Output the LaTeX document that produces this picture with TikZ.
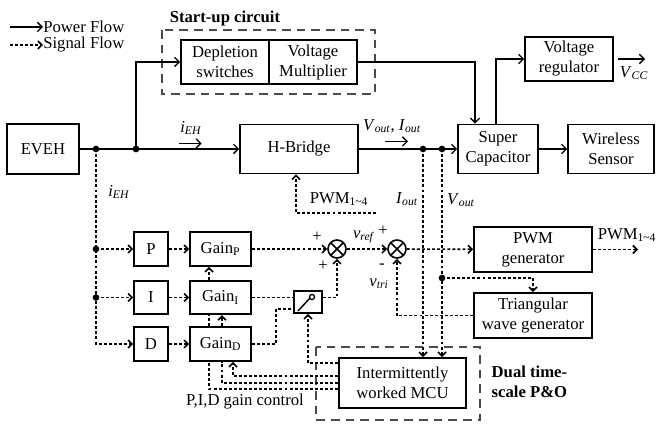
\documentclass[tikz,border=0pt]{standalone}
\usepackage{fontspec}
\setmainfont{Liberation Serif}
\usetikzlibrary{arrows.meta,calc}
\definecolor{rahmen}{HTML}{4A4A4A}
\newcommand{\fs}{\fontsize{12.5}{15}\selectfont}
\newcommand{\sg}[2]{\textit{#1}\textsubscript{\textit{#2}}}
\newcommand{\pwm}{PWM\textsubscript{1\textasciitilde4}}
\tikzset{
  blk/.style={draw,line width=1.3pt,align=center,inner sep=1pt},
  pwr/.style={-{Straight Barb[length=3.5pt,width=7pt]},line width=1pt},
  sig/.style={-{Straight Barb[length=3pt,width=6pt]},line width=1.2pt,dash pattern=on 2.2pt off 1.6pt},
  sigl/.style={line width=1.2pt,dash pattern=on 2.2pt off 1.6pt},
  grp/.style={draw=rahmen,line width=1pt,dash pattern=on 6.5pt off 4.5pt},
  dot/.style={circle,fill,inner sep=0pt,minimum size=5pt},
  sumj/.style={circle,draw,line width=1.2pt,inner sep=0pt,minimum size=13.5pt,
    path picture={\draw[line width=1.2pt] (path picture bounding box.north west)--(path picture bounding box.south east)
      (path picture bounding box.north east)--(path picture bounding box.south west);}},
}
\begin{document}
\begin{tikzpicture}[x=0.75pt,y=-0.75pt,font=\fs]
  \useasboundingbox (0,0) rectangle (657,424);
  \node[anchor=west,inner sep=0pt] (lgp) at (43,27) {Power Flow};
  \node[anchor=west,inner sep=0pt] (lgs) at (43,45) {Signal Flow};
  \coordinate (lgp0) at (10,27);
  \coordinate (lgs0) at (10,45);
  \draw[pwr] (lgp0) -- (lgp.west);
  \draw[sig] (lgs0) -- (lgs.west);

  \draw[grp] (162,30) rectangle (375,94);
  \node[font=\fs\bfseries] (sulbl) at (225,18) {Start-up circuit};
  \draw[grp] (316,347) rectangle (480,420);
  \node[font=\fs\bfseries,align=left,anchor=west] (dlbl) at (487,382) {Dual time-\\scale P\&O};

  \node[blk,minimum width=54pt,minimum height=37.5pt] (eveh) at (43,149) {EVEH};
  \node[blk,minimum width=66pt,minimum height=33pt] (depl) at (225,62) {Depletion\\switches};
  \node[blk,minimum width=66pt,minimum height=33pt] (vmul) at (313,62) {Voltage\\Multiplier};
  \node[blk,minimum width=88.5pt,minimum height=36.75pt] (hbr) at (299,149) {H-Bridge};
  \node[blk,minimum width=60pt,minimum height=36.75pt] (supc) at (498,149) {Super\\Capacitor};
  \node[blk,minimum width=64.5pt,minimum height=36.75pt] (wsen) at (611,149) {Wireless\\Sensor};
  \node[blk,minimum width=66pt,minimum height=33pt] (vreg) at (569,59) {Voltage\\regulator};
  \node[blk,minimum width=25.5pt,minimum height=25.5pt] (pb) at (151,249) {P};
  \node[blk,minimum width=25.5pt,minimum height=25pt] (ib) at (151,297.5) {I};
  \node[blk,minimum width=25.5pt,minimum height=25.5pt] (db) at (151,344) {D};
  \node[blk,minimum width=45.75pt,minimum height=25.5pt] (gp) at (220.5,249) {Gain\textsubscript{P}};
  \node[blk,minimum width=45.75pt,minimum height=25pt] (gi) at (220.5,297.5) {Gain\textsubscript{I}};
  \node[blk,minimum width=45.75pt,minimum height=25.5pt] (gd) at (220.5,344) {Gain\textsubscript{D}};
  \node[blk,minimum width=21pt,minimum height=16.5pt] (sw) at (308,302) {};
  \node[sumj] (s1) at (337,249) {};
  \node[sumj] (s2) at (397,249) {};
  \node[blk,minimum width=88.5pt,minimum height=33.75pt] (pwmg) at (533,249.5) {PWM\\generator};
  \node[blk,minimum width=88.5pt,minimum height=33.75pt] (tri) at (533,315.5) {Triangular\\wave generator};
  \node[blk,minimum width=95.25pt,minimum height=37.5pt] (mcu) at (402.5,383) {Intermittently\\worked MCU};

  \draw[line width=1.1pt] ($(sw.center)+(-10,9)$) -- ($(sw.center)+(2,-4)$);
  \draw[line width=1pt] ($(sw.center)+(4,-5)$) circle (1.9pt);

  \node[dot] (j1) at (96,149) {};
  \node[dot] (j2) at (136,149) {};
  \node[dot] (j3) at (423,149) {};
  \node[dot] (j4) at (442,149) {};
  \node[dot] (j5) at (96,249) {};
  \node[dot] (j6) at (96,297.5) {};
  \node[dot] (j7) at (442,278) {};

  \draw[pwr] (eveh.east) -- (hbr.west);
  \draw[pwr] (j2.center) |- (depl.west);
  \draw[pwr] (vmul.east) -| ($(supc.north)+(-23,0)$);
  \draw[pwr] (hbr.east) -- (supc.west);
  \draw[pwr] ($(supc.north)+(-2,0)$) |- (vreg.west);
  \draw[pwr] (supc.east) -- (wsen.west);
  \coordinate (vcc) at (645,59);
  \draw[pwr] ($(vreg.east)+(4,0)$) -- (vcc);

  \draw[sig] (j1.center) |- (db.west);
  \draw[sig] (j5.center) -- (pb.west);
  \draw[sig] (j6.center) -- (ib.west);
  \draw[sig] (pb) -- (gp);
  \draw[sig] (ib) -- (gi);
  \draw[sig] (db) -- (gd);
  \draw[sig] (gp) -- (s1);
  \draw[sigl] (gi.east) -- (gi.east -| sw.west);
  \draw[sigl] (gd.east) -- ++(24,0) |- ($(sw.west)+(0,7)$);
  \draw[sig] (sw.east |- gi.east) -| (s1.south);
  \draw[sig] (s1) -- (s2);
  \draw[sig] (s2) -- (pwmg);
  \coordinate (pwmo) at (638,249.5);
  \draw[sig] (pwmg.east) -- (pwmo);
  \draw[sig] (tri.west) -| (s2.south);
  \draw[sig] (j7.center) -| (tri.north);
  \draw[sig] (j3.center) -- (j3 |- mcu.north);
  \draw[sig] (j4.center) -- (j4 |- mcu.north);
  \coordinate (pwmf) at (376,213);
  \draw[sig] (pwmf) -| ($(hbr.south)+(-3,0)$);
  \draw[sig] ($(mcu.west)+(0,-20)$) -| (sw.south);
  \draw[sig] ($(mcu.west)+(0,-7)$) -| ($(gd.south)+(12.5,0)$);
  \draw[sigl] (mcu.west) -| ($(gd.south)+(1.5,0)$);
  \draw[sig] ($(gd.north)+(1.5,0)$) -- ($(gi.south)+(1.5,0)$);
  \draw[sigl] ($(mcu.west)+(0,6)$) -| ($(gd.south)+(-11.5,0)$);
  \draw[sigl] ($(gd.north)+(-11.5,0)$) -- ($(gi.south)+(-11.5,0)$);
  \draw[sig] ($(gi.north)+(-11.5,0)$) -- ($(gp.south)+(-11.5,0)$);

  \node (iehl) at (191,128) {\sg{i}{EH}};
  \draw[pwr] ([xshift=-9pt,yshift=-3pt]iehl.south) -- ([xshift=8pt,yshift=-3pt]iehl.south);
  \node (iehv) at (119,192) {\sg{i}{EH}};
  \node (voil) at (392,126) {\sg{V}{out}, \sg{I}{out}};
  \draw[pwr] ([xshift=-5pt,yshift=-3pt]voil.south) -- ([xshift=12pt,yshift=-3pt]voil.south);
  \node (ioutl) at (407,199) {\sg{I}{out}};
  \node (voutl) at (461,200) {\sg{V}{out}};
  \node (pwmfl) at (339,199) {\pwm};
  \node (pwmol) at (627,235) {\pwm};
  \node (vccl) at (634,73) {\sg{V}{CC}};
  \node (pl1) at (317,237) {+};
  \node (pl2) at (323,266) {+};
  \node (pl3) at (383,231) {+};
  \node (mi1) at (382,266) {-};
  \node (vrefl) at (364,237) {\sg{v}{ref}};
  \node (vtril) at (379,284) {\sg{v}{tri}};
  \node (pidl) at (245,402) {P,I,D gain control};
\end{tikzpicture}
\end{document}
